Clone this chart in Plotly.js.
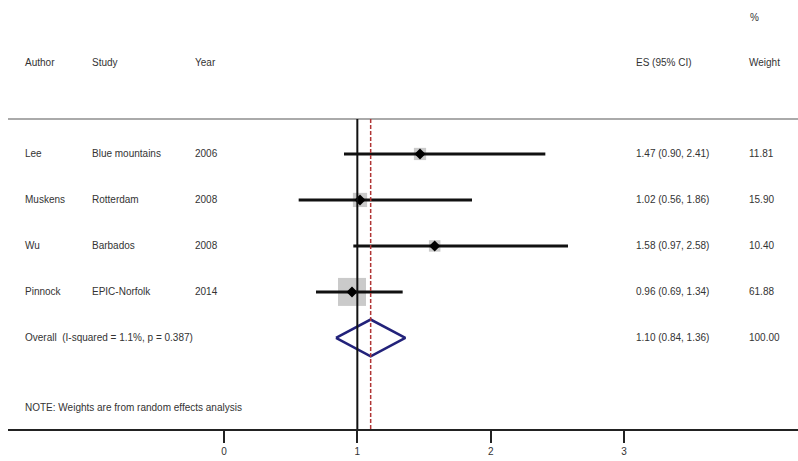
<!DOCTYPE html>
<html>
<head>
<meta charset="utf-8">
<script src="https://cdn.plot.ly/plotly-3.0.1.min.js"></script>
<style>html,body{margin:0;padding:0;background:#fff;}#chart{width:798px;height:461px;}</style>
</head>
<body>
<div id="chart"></div>
<script>
// ---- data ----
var authors = ['Lee', 'Muskens', 'Wu', 'Pinnock'];
var studies = ['Blue mountains', 'Rotterdam', 'Barbados', 'EPIC-Norfolk'];
var years = ['2006', '2008', '2008', '2014'];
var es = [1.47, 1.02, 1.58, 0.96];
var ciLow = [0.90, 0.56, 0.97, 0.69];
var ciHigh = [2.41, 1.86, 2.58, 1.34];
var weights = [11.81, 15.90, 10.40, 61.88];
var overallES = 1.10;
var overallLow = 0.84;
var overallHigh = 1.36;
var overallWeight = 100.00;
var overallLabel = 'Overall  (I-squared = 1.1%, p = 0.387)';
var noteText = 'NOTE: Weights are from random effects analysis';
var headers = ['Author', 'Study', 'Year', 'ES (95% CI)', 'Weight'];
var tickVals = [0, 1, 2, 3];

// ---- build ----
var rows = authors.map(function (_, i) { return i + 1; });
var overallRow = authors.length + 1;
var noteRow = overallRow + 1.52;

var ciX = [], ciY = [];
for (var i = 0; i < es.length; i++) {
  ciX.push(ciLow[i], ciHigh[i], null);
  ciY.push(rows[i], rows[i], null);
}
var maxW = Math.max.apply(null, weights);
var sqSize = weights.map(function (w) { return 28 * Math.sqrt(w / maxW); });

var traces = [
  { x: es, y: rows, mode: 'markers', type: 'scatter', hoverinfo: 'skip',
    marker: { symbol: 'square', size: sqSize, color: '#b4b4b4', line: { width: 0 } } },
  { x: ciX, y: ciY, mode: 'lines', type: 'scatter', hoverinfo: 'skip',
    line: { color: '#111', width: 3 } },
  { x: es, y: rows, mode: 'markers', type: 'scatter', hoverinfo: 'skip',
    marker: { symbol: 'diamond', size: 8.5, color: '#000' } },
  { x: [overallLow, overallES, overallHigh, overallES, overallLow],
    y: [overallRow, overallRow - 0.4, overallRow, overallRow + 0.4, overallRow],
    mode: 'lines', type: 'scatter', hoverinfo: 'skip',
    line: { color: '#22227a', width: 2.5 } }
];

var font = { family: 'Liberation Sans, Arial, sans-serif', size: 10, color: '#333' };
var colX = [0.019, 0.104, 0.234, 0.792, 0.935];
var ann = [];
function addText(text, x, y, yref) {
  ann.push({ text: text, x: x, y: y, xref: 'paper', yref: yref, xanchor: 'left',
    yanchor: 'middle', showarrow: false, font: font });
}
headers.forEach(function (h, k) { addText(h, colX[k], 1.181, 'paper'); });
addText('%', 0.937, 1.329, 'paper');
for (var j = 0; j < authors.length; j++) {
  addText(authors[j], colX[0], rows[j], 'y');
  addText(studies[j], colX[1], rows[j], 'y');
  addText(years[j], colX[2], rows[j], 'y');
  addText(es[j].toFixed(2) + ' (' + ciLow[j].toFixed(2) + ', ' + ciHigh[j].toFixed(2) + ')', colX[3], rows[j], 'y');
  addText(weights[j].toFixed(2), colX[4], rows[j], 'y');
}
addText(overallLabel, colX[0], overallRow, 'y');
addText(overallES.toFixed(2) + ' (' + overallLow.toFixed(2) + ', ' + overallHigh.toFixed(2) + ')', colX[3], overallRow, 'y');
addText(overallWeight.toFixed(2), colX[4], overallRow, 'y');
addText(noteText, colX[0], noteRow, 'y');

var layout = {
  width: 798, height: 461,
  margin: { l: 8, r: 0, t: 119, b: 32 },
  paper_bgcolor: '#fff', plot_bgcolor: '#fff',
  showlegend: false,
  xaxis: { range: [-1.62, 4.305], showgrid: false, zeroline: false,
    showline: true, linecolor: '#222', linewidth: 2,
    ticks: 'outside', ticklen: 12, tickwidth: 2, tickcolor: '#222',
    tickvals: tickVals, ticktext: tickVals.map(String),
    tickfont: { family: 'Liberation Sans, Arial, sans-serif', size: 10, color: '#333' } },
  yaxis: { range: [6.98, 0.24], showgrid: false, zeroline: false, showline: false,
    showticklabels: false, ticks: '' },
  shapes: [
    { type: 'line', xref: 'paper', yref: 'paper', x0: 0, x1: 1, y0: 1, y1: 1,
      line: { color: '#aaa', width: 2 } },
    { type: 'line', xref: 'x', yref: 'paper', x0: 1, x1: 1, y0: 0, y1: 1,
      line: { color: '#111', width: 2 } },
    { type: 'line', xref: 'x', yref: 'paper', x0: overallES, x1: overallES, y0: 0, y1: 1,
      line: { color: '#b03535', width: 1.5, dash: '4px,2px' } }
  ],
  annotations: ann
};

Plotly.newPlot('chart', traces, layout, { staticPlot: true, displayModeBar: false });
</script>
</body>
</html>
